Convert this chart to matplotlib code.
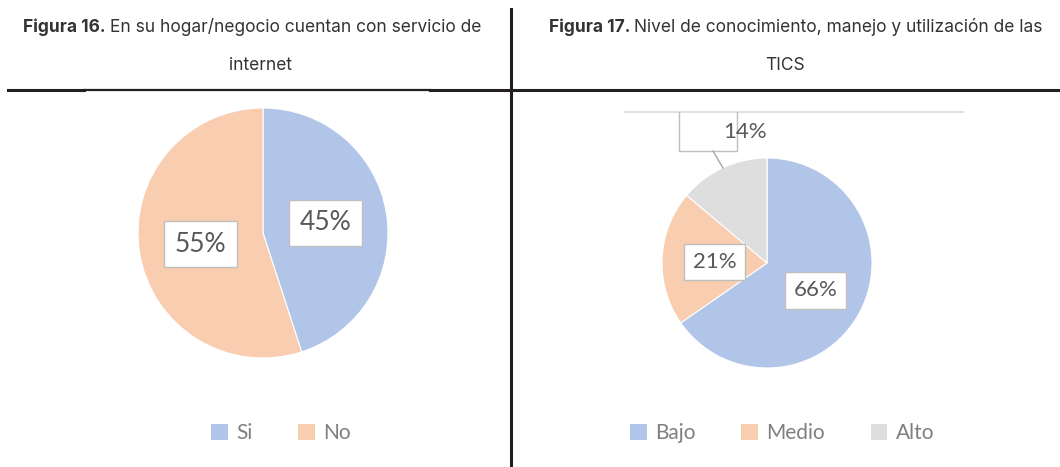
import matplotlib.pyplot as plt
from matplotlib.lines import Line2D

# --- DATA ---
titulo_16 = "En su hogar/negocio cuentan con servicio de"
titulo_16b = "internet"
titulo_17 = "Nivel de conocimiento, manejo y utilización de las"
titulo_17b = "TICS"

cat_16 = ['Si', 'No']
val_16 = [45, 55]
cat_17 = ['Bajo', 'Medio', 'Alto']
val_17 = [66, 21, 14]

col_16 = ['#b1c5e9', '#f8cdb0']
col_17 = ['#b1c5e9', '#f8cdb0', '#dedede']

W, H = 1060, 467
fig = plt.figure(figsize=(W / 100, H / 100), dpi=100)
plt.rcParams['font.family'] = ['Lato', 'DejaVu Sans']


def pie_axes(cx, cy, r, left, right, top, bottom, vals, cols):
    # axes in pixel box, data units = pie radius
    ax = fig.add_axes([left / W, 1 - bottom / H, (right - left) / W, (bottom - top) / H])
    ax.pie(vals, colors=cols, startangle=90, counterclock=False, radius=1,
           wedgeprops=dict(linewidth=0.8, edgecolor='white'))
    ax.set_xlim((left - cx) / r, (right - cx) / r)
    ax.set_ylim((cy - bottom) / r, (cy - top) / r)
    ax.set_aspect('auto')
    ax.axis('off')
    return ax


def caja(ax, x, y, txt, size, pad):
    ax.text(x, y, txt, ha='center', va='center', fontsize=size, color='#595959',
            bbox=dict(boxstyle='square,pad=%.2f' % pad, fc='white', ec='#bfbfbf', lw=1))


# --- Figura 16 ---
ax1 = pie_axes(263, 233, 125, 20, 500, 95, 467, val_16, col_16)
caja(ax1, 0.50, 0.08, '45%', 19, 0.4)
caja(ax1, -0.50, -0.09, '55%', 19, 0.4)

# --- Figura 17 ---
ax2 = pie_axes(767, 263, 105, 520, 1060, 95, 467, val_17, col_17)
caja(ax2, 0.46, -0.26, '66%', 16, 0.38)
caja(ax2, -0.50, 0.01, '21%', 16, 0.38)
# etiqueta 14% con caja recortada y guia
ytop = (263 - 112) / 105
ax2.plot([(625 - 767) / 105, (963 - 767) / 105], [ytop, ytop], color='#e2e2e2', lw=1.5)
bx0, bx1 = (679 - 767) / 105, (737 - 767) / 105
by0 = (263 - 151) / 105
ax2.plot([bx0, bx0, bx1, bx1], [ytop, by0, by0, ytop], color='#bfbfbf', lw=1)
ax2.plot([(713 - 767) / 105, (723 - 767) / 105], [by0, (263 - 168) / 105], color='#a6a6a6', lw=1)
ax2.text(-0.21, 1.25, '14%', ha='center', va='center', fontsize=16, color='#595959')


# --- leyendas ---
def leyenda(ax, cats, cols, x, y):
    handles = [plt.Rectangle((0, 0), 1, 1, fc=c, ec='none') for c in cols]
    ax.legend(handles, cats, loc='center', bbox_to_anchor=(x / W, 1 - y / H),
              bbox_transform=fig.transFigure, ncol=len(cats), frameon=False,
              fontsize=15, labelcolor='#7f7f7f', handlelength=0.8, handleheight=0.8,
              handletextpad=0.4, columnspacing=2.2)


leyenda(ax1, cat_16, col_16, 281, 433)
leyenda(ax2, cat_17, col_17, 782, 433)

# --- titulos y lineas ---
fs = 12.5
for (x0, b, t1, t2, xc) in [(23, 'Figura 16.', titulo_16, titulo_16b, 260),
                             (549, 'Figura 17.', titulo_17, titulo_17b, 785)]:
    tb = fig.text(x0 / W, 1 - 27 / H, b, fontsize=fs, fontweight='bold', color='#333333',
                  family='Inter', ha='left', va='center')
    fig.canvas.draw()
    bb = tb.get_window_extent()
    fig.text((bb.x1 + 4) / W, 1 - 27 / H, t1, fontsize=fs, color='#333333',
             family='Inter', ha='left', va='center')
    fig.text(xc / W, 1 - 65 / H, t2, fontsize=fs, color='#333333',
             family='Inter', ha='center', va='center')

linea = '#231f20'
fig.add_artist(Line2D([8 / W, 84 / W], [1 - 90 / H] * 2, color=linea, lw=2.2))
fig.add_artist(Line2D([84 / W, 430 / W], [1 - 89.5 / H] * 2, color=linea, lw=1.6))
fig.add_artist(Line2D([430 / W, 1], [1 - 90 / H] * 2, color=linea, lw=2.2))
fig.add_artist(Line2D([511 / W, 511 / W], [0, 1 - 9 / H], color=linea, lw=2.2))

fig.savefig('out.png', dpi=100)
